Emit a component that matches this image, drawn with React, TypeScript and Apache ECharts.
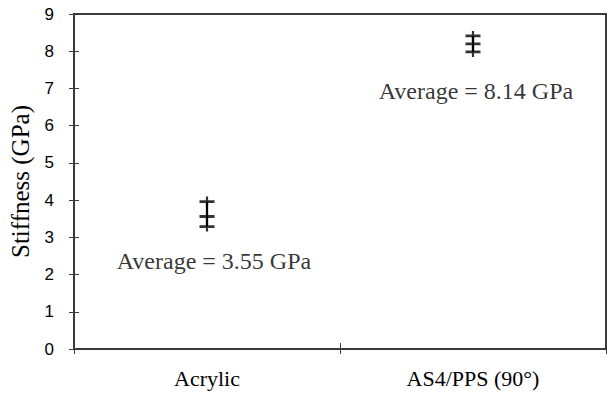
import React, { useEffect, useRef } from "react";
import * as echarts from "echarts";

const categories = ["Acrylic", "AS4/PPS (90°)"];
const acrylicValues = [3.96, 3.56, 3.29];
const as4ppsValues = [8.41, 8.2, 7.98];
const averageLabels = ["Average = 3.55 GPa", "Average = 8.14 GPa"];
const averageLabelValues = [2.36, 6.93];
const yTicks = [0, 1, 2, 3, 4, 5, 6, 7, 8, 9];

const SERIF = "'Liberation Serif', 'Times New Roman', serif";
const SANS = "'Liberation Sans', Arial, sans-serif";
const AXIS_COLOR = "#3a3a3a";
const CROSS = "path://M0,3.6H15V6.4H0Z M6.4,0H8.6V10H6.4Z";

export default function App() {
  const ref = useRef<HTMLDivElement>(null);
  useEffect(() => {
    if (!ref.current) return;
    const chart = echarts.init(ref.current, null, { renderer: "svg" });
    const groups = [acrylicValues, as4ppsValues];
    const yMin = yTicks[0];
    const yMax = yTicks[yTicks.length - 1];
    const commonY = {
      type: "value",
      min: yMin,
      max: yMax,
      interval: 1,
      splitLine: { show: false },
      axisLine: { show: true, lineStyle: { color: AXIS_COLOR, width: 2 } },
    };
    const commonX = {
      type: "category",
      data: categories,
      boundaryGap: true,
      splitLine: { show: false },
      axisLine: { show: true, lineStyle: { color: AXIS_COLOR, width: 2 } },
    };
    chart.setOption({
      animation: false,
      grid: {
        left: 71,
        top: 14,
        right: 1,
        bottom: 46,
        show: true,
        borderColor: AXIS_COLOR,
        borderWidth: 2,
      },
      xAxis: [
        {
          ...commonX,
          axisTick: { show: true, inside: false, length: 5, lineStyle: { color: AXIS_COLOR, width: 1 } },
          axisLabel: { fontFamily: SERIF, fontSize: 22, color: "#000", margin: 18 },
        },
        {
          ...commonX,
          position: "bottom",
          axisTick: { show: true, inside: true, length: 6, lineStyle: { color: AXIS_COLOR, width: 1 } },
          axisLabel: { show: false },
        },
      ],
      yAxis: [
        {
          ...commonY,
          name: "Stiffness (GPa)",
          nameLocation: "middle",
          nameRotate: 90,
          nameGap: 41,
          nameTextStyle: { fontFamily: SERIF, fontSize: 25, color: "#000" },
          axisTick: { show: true, inside: false, length: 5, lineStyle: { color: AXIS_COLOR, width: 1 } },
          axisLabel: { fontFamily: SANS, fontSize: 17, color: "#000", margin: 20 },
        },
        {
          ...commonY,
          position: "left",
          axisTick: { show: true, inside: true, length: 5, lineStyle: { color: AXIS_COLOR, width: 1 } },
          axisLabel: { show: false },
        },
      ],
      series: [
        ...groups.map((vals, i) => ({
          type: "line",
          xAxisIndex: 0,
          yAxisIndex: 0,
          data: vals.map((v) => [categories[i], v]),
          symbol: "none",
          lineStyle: { color: "#000", width: 2.2 },
          silent: true,
        })),
        ...groups.map((vals, i) => ({
          type: "scatter",
          xAxisIndex: 0,
          yAxisIndex: 0,
          data: vals.map((v) => [categories[i], v]),
          symbol: CROSS,
          symbolSize: [15, 10],
          itemStyle: { color: "#000" },
          silent: true,
        })),
        {
          type: "scatter",
          xAxisIndex: 0,
          yAxisIndex: 0,
          data: averageLabels.map((t, i) => ({
            value: [categories[i], averageLabelValues[i]],
            label: {
              show: true,
              formatter: t,
              position: "inside",
              offset: i === 0 ? [7, 0] : [3, 0],
              fontFamily: SERIF,
              fontSize: 24,
              color: "#000",
            },
          })),
          symbolSize: 0,
          silent: true,
        },
      ],
    });
    return () => chart.dispose();
  }, []);
  return (
    <div
      ref={ref}
      style={{ position: "fixed", left: 0, top: 0, width: 607, height: 395, background: "#fff" }}
    />
  );
}
